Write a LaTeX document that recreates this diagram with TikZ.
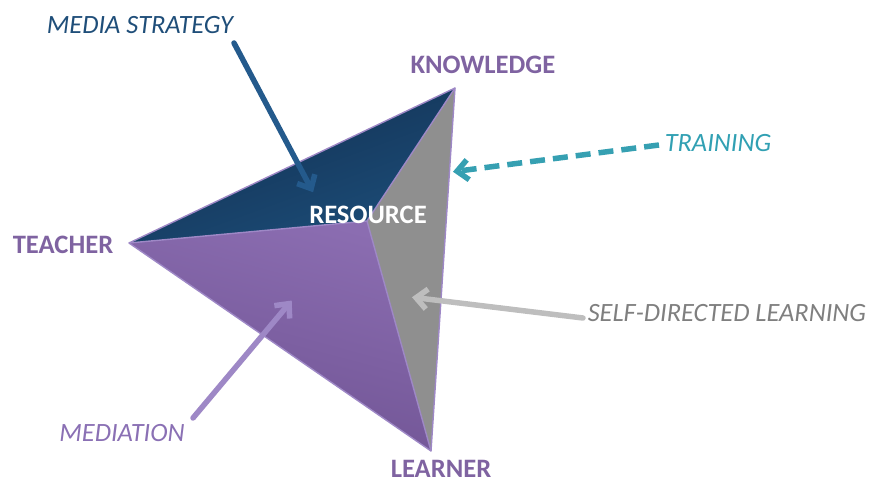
\documentclass[tikz,border=0pt]{standalone}
\usepackage{fontspec}
\setmainfont{Carlito}
\usetikzlibrary{arrows.meta}
\definecolor{labpurple}{HTML}{7F63A1}
\definecolor{medblue}{HTML}{1F4E79}
\definecolor{trainteal}{HTML}{31A0B3}
\definecolor{sdlgray}{HTML}{7F7F7F}
\definecolor{mediapurple}{HTML}{8A70B4}
\definecolor{edgepurple}{HTML}{9E88C6}
\definecolor{bluedark}{HTML}{122F51}
\definecolor{bluelight}{HTML}{1C4D78}
\definecolor{purplight}{HTML}{8B6DB1}
\definecolor{purpdark}{HTML}{6F5393}
\definecolor{facegray}{HTML}{8F8F8F}
\definecolor{arrblue}{HTML}{245A8C}
\definecolor{arrteal}{HTML}{36A0B2}
\definecolor{arrgray}{HTML}{BEBEBE}
\definecolor{arrpurple}{HTML}{9E88C6}
\tikzset{
  vlabel/.style={font=\fontsize{26.7}{30}\selectfont\bfseries, text=labpurple, inner sep=0pt},
  ilabel/.style={font=\fontsize{26.5}{30}\selectfont\itshape, inner sep=0pt},
  edge/.style={draw=edgepurple, line width=1.4bp, line join=round},
  ptr/.style={line width=5.5bp, line cap=round, -{Straight Barb[length=11bp, width=20bp, line width=5.5bp]}, shorten >=2bp},
}
\begin{document}
\begin{tikzpicture}[x=1bp,y=-1bp]
\useasboundingbox (0,0) rectangle (876,485);
% vertices
\coordinate (T) at (129,243);
\coordinate (K) at (455,88);
\coordinate (L) at (431,451);
\coordinate (R) at (367,221);
% faces
\shade[top color=bluedark, bottom color=bluelight, shading angle=20] (T) -- (K) -- (R) -- cycle;
\shade[top color=purplight, bottom color=purpdark, shading angle=-15] (T) -- (R) -- (L) -- cycle;
\fill[facegray] (R) -- (K) -- (L) -- cycle;
\path[edge] (T) -- (K) -- (L) -- cycle;
\path[edge] (T) -- (R) -- (K);
\path[edge] (R) -- (L);
% labels
\node[vlabel] (knowledge) at (483,65) {KNOWLEDGE};
\node[vlabel] (teacher) at (63,245) {TEACHER};
\node[vlabel] (learner) at (441,469) {LEARNER};
\node[vlabel, text=white] (resource) at (368,215) {RESOURCE};
\node[ilabel, text=medblue] (media) at (140,25) {MEDIA STRATEGY};
\node[ilabel, text=trainteal] (training) at (718,143) {TRAINING};
\node[ilabel, text=sdlgray] (sdl) at (727,313) {SELF-DIRECTED LEARNING};
\node[ilabel, text=mediapurple] (mediation) at (122,433) {MEDIATION};
% arrows
\coordinate (ms0) at (234,43);
\coordinate (ms1) at (314,194);
\coordinate (tr0) at (659,145);
\coordinate (tr1) at (451,172);
\coordinate (sd0) at (583,318);
\coordinate (sd1) at (410,297);
\coordinate (me0) at (193,418);
\coordinate (me1) at (293,299);
\draw[ptr, draw=arrblue] (ms0) -- (ms1);
\draw[ptr, draw=arrteal, dash pattern=on 15bp off 8bp, line cap=butt] (tr0) -- (tr1);
\draw[ptr, draw=arrgray] (sd0) -- (sd1);
\draw[ptr, draw=arrpurple] (me0) -- (me1);
\end{tikzpicture}
\end{document}
